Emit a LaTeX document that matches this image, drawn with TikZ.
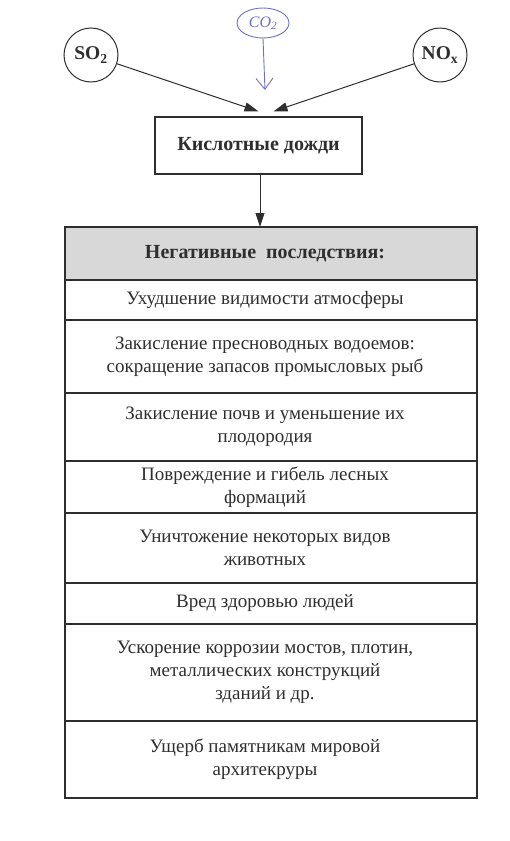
\documentclass[tikz,border=0pt]{standalone}
\usepackage{fontspec}
\setmainfont{Liberation Serif}
\usetikzlibrary{shapes.geometric,arrows.meta,patterns}
\definecolor{ink}{HTML}{2E2E2E}
\definecolor{hdr}{HTML}{D8D8D8}
\definecolor{pen}{HTML}{6F6FC8}
\newcommand{\rowtext}[1]{\makebox[405pt][l]{\parbox{393pt}{\centering #1}}}
\tikzset{
  gas/.style={circle,draw=ink,line width=1pt,minimum size=54pt,inner sep=0pt,font=\fontsize{19.5}{22}\selectfont\bfseries,text=ink},
  rainbox/.style={rectangle,draw=ink,line width=1.2pt,minimum width=207pt,minimum height=57pt,font=\fontsize{20}{22}\selectfont\bfseries,text=ink},
  row/.style={rectangle,draw=ink,line width=1.2pt,outer sep=0pt,minimum width=412pt,inner sep=0pt,anchor=north,font=\fontsize{19}{23}\selectfont,text=ink},
  hrow/.style={row,fill=hdr,font=\fontsize{20}{23}\selectfont\bfseries},
  arr/.style={draw=ink,line width=1pt,-{Triangle[length=14pt,width=9pt]}},
  penarr/.style={draw=pen,line width=0.9pt,-{Straight Barb[length=11pt,width=17pt]}}
}
\begin{document}
\begin{tikzpicture}[x=1pt,y=-1pt]
\useasboundingbox (0,0) rectangle (509,841);
\node[gas] (so2) at (91,55) {SO\textsubscript{2}};
\node[gas] (nox) at (440,55) {NO\textsubscript{x}};
\node[ellipse,draw=pen,line width=0.9pt,minimum width=52pt,minimum height=30pt,inner sep=0pt,text=pen,font=\fontsize{16}{18}\selectfont\itshape] (co2) at (263,23) {CO\textsubscript{2}};
\node[rainbox] (rain) at (258.5,145.5) {Кислотные дожди};
\coordinate (penend) at (265,90);
\draw[penarr] (co2.south) -- (penend);
\draw[arr] (so2) -- ([yshift=5pt]rain.north);
\draw[arr] (nox) -- ([xshift=15pt,yshift=5pt]rain.north);
\node[hrow,minimum height=53pt] (h) at (271,227) {\rowtext{Негативные\ \ последствия:}};
\draw[arr] ([xshift=1.5pt]rain.south) -- ([xshift=1.5pt]rain.south |- h.north);
\node[row,minimum height=40pt] (r1) at (h.south) {\rowtext{Ухудшение видимости атмосферы}};
\node[row,minimum height=73pt] (r2) at (r1.south) {\rowtext{Закисление пресноводных водоемов:\\сокращение запасов промысловых рыб}};
\node[row,minimum height=68pt] (r3) at (r2.south) {\rowtext{Закисление почв и уменьшение их\\плодородия}};
\node[row,minimum height=52pt] (r4) at (r3.south) {\rowtext{Повреждение и гибель лесных\\формаций}};
\node[row,minimum height=70pt] (r5) at (r4.south) {\rowtext{Уничтожение некоторых видов\\животных}};
\node[row,minimum height=41pt] (r6) at (r5.south) {\rowtext{Вред здоровью людей}};
\node[row,minimum height=97pt] (r7) at (r6.south) {\rowtext{Ускорение коррозии мостов, плотин,\\металлических конструкций\\зданий и др.}};
\node[row,minimum height=77pt] (r8) at (r7.south) {\rowtext{Ущерб памятникам мировой\\архитекруры}};
\end{tikzpicture}
\end{document}
